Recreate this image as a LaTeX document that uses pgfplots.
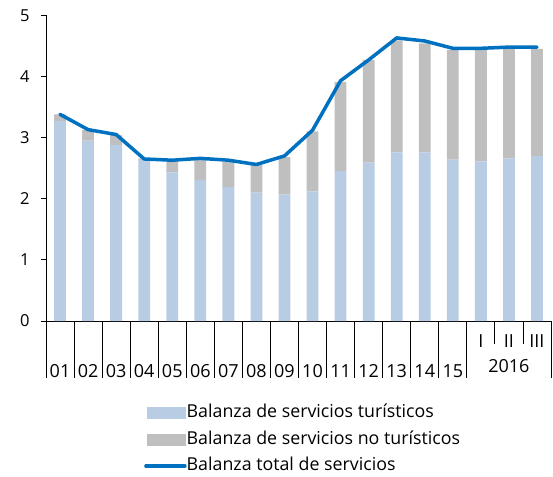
\documentclass[border=0pt]{standalone}
\usepackage{fontspec}
\setmainfont{Open Sans}
\usepackage{pgfplots}
\usepackage{pgfplotstable}
\pgfplotsset{compat=1.18}
\definecolor{turis}{RGB}{184,204,228}
\definecolor{noturis}{RGB}{191,191,191}
\definecolor{totalserv}{RGB}{0,112,192}

% x: 01..15, then 2016 I, II, III
\pgfplotstableread{
x  tur   notur total
0  3.27  0.11  3.38
1  2.95  0.17  3.13
2  2.88  0.16  3.05
3  2.63  0.03  2.65
4  2.43  0.20  2.63
5  2.31  0.34  2.66
6  2.19  0.41  2.63
7  2.10  0.45  2.56
8  2.07  0.61  2.70
9  2.12  0.98  3.12
10 2.45  1.46  3.93
11 2.59  1.68  4.27
12 2.76  1.83  4.63
13 2.76  1.78  4.58
14 2.64  1.79  4.46
15 2.61  1.82  4.46
16 2.66  1.79  4.48
17 2.70  1.75  4.48
}\datos

\pgfplotsset{
  base/.style={
    at={(0,0)}, anchor=south west,
    scale only axis, width=505bp, height=305.7bp,
    xmin=-0.5, xmax=17.5, ymin=0, ymax=5,
    clip=false,
  },
}
\newcommand{\labfont}{\fontsize{18bp}{20bp}\selectfont}

\begin{document}
\begin{tikzpicture}
\useasboundingbox (-46bp,-156bp) rectangle (507bp,321bp);
\begin{axis}[
  base,
  ybar stacked, bar width=0.42,
  axis lines=left,
  axis line style={-, black, line width=0.8bp},
  ytick={0,1,2,3,4,5},
  ytick style={black, line width=0.8bp},
  tick align=outside,
  major tick length=5bp,
  /pgf/number format/assume math mode=true,
  yticklabel style={anchor=east, xshift=-8bp, font=\fontsize{16.5bp}{18bp}\selectfont},
  xtick={0,...,14},
  xticklabels={01,02,03,04,05,06,07,08,09,10,11,12,13,14,15},
  xtick style={draw=none},
  xticklabel style={anchor=base, yshift=-51bp, font=\labfont},
  legend style={draw=none, fill=none, at={(0.194,-0.27)}, anchor=north west,
    row sep=7.5bp, inner sep=0pt, font=\fontsize{17.8bp}{22bp}\selectfont,
    nodes={inner sep=0pt, text height=14bp, text depth=5bp},
    /tikz/every odd column/.append style={column sep=0bp}},
  legend cell align=left,
]
\addplot[fill=turis, draw=none,
  legend image code/.code={\fill[turis] (0bp,-5.8bp) rectangle (39bp,5.8bp);}]
  table[x=x, y=tur] {\datos};
\addlegendentry{Balanza de servicios turísticos}
\addplot[fill=noturis, draw=none,
  legend image code/.code={\fill[noturis] (0bp,-5.8bp) rectangle (39bp,5.8bp);}]
  table[x=x, y=notur] {\datos};
\addlegendentry{Balanza de servicios no turísticos}
\addlegendimage{legend image code/.code={\draw[totalserv, line width=3.5bp, line cap=round] (-1bp,0) -- (38bp,0);}}
\addlegendentry{Balanza total de servicios}

% category separators below the axis
\pgfplotsinvokeforeach{-0.5,0.5,...,14.5}{
  \draw[black, line width=0.8bp] (axis cs:#1,0) -- ++(0pt,-57bp);
}
\draw[black, line width=0.8bp] (axis cs:17.5,0) -- ++(0pt,-57bp);
\draw[black, line width=0.8bp] (axis cs:15.5,0) -- ++(0pt,-23bp);
\draw[black, line width=0.8bp] (axis cs:16.5,0) -- ++(0pt,-23bp);
\node[anchor=base, yshift=-26bp, font=\labfont] at (axis cs:15,0) {I};
\node[anchor=base, yshift=-26bp, font=\labfont] at (axis cs:16,0) {II};
\node[anchor=base, yshift=-26bp, font=\labfont] at (axis cs:17,0) {III};
\node[anchor=base, yshift=-51bp, font=\labfont] at (axis cs:16,0) {2016};
\end{axis}

\begin{axis}[base, axis lines=none, ticks=none]
\addplot[totalserv, line width=3.5bp, line join=round, line cap=round, mark=none]
  table[x=x, y=total] {\datos};
\end{axis}
\end{tikzpicture}
\end{document}
